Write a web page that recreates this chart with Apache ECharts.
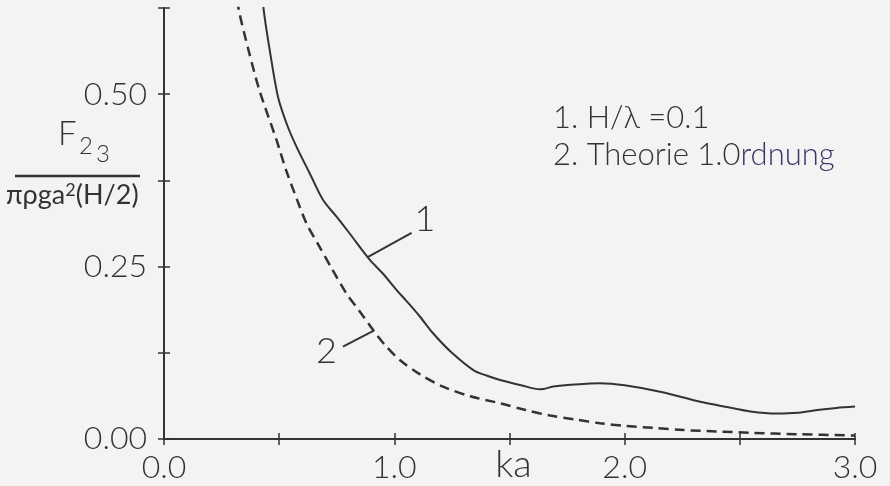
<!DOCTYPE html>
<html>
<head>
<meta charset="utf-8">
<script src="https://cdn.jsdelivr.net/npm/echarts@6/dist/echarts.min.js"></script>
<style>
  html, body { margin: 0; padding: 0; background: #f3f3f3; }
  #chart { width: 890px; height: 486px; }
</style>
</head>
<body>
<div id="chart"></div>
<script>
// Wave number ka and normalised second-order force, curve 1 (H/lambda = 0.1)
const ka1 = [0.425, 0.433, 0.459, 0.495, 0.535, 0.575, 0.633, 0.69, 0.75, 0.806, 0.893, 0.95, 1.01, 1.053, 1.11, 1.169, 1.25, 1.343, 1.40, 1.459, 1.55, 1.633, 1.69, 1.78, 1.893, 2.0, 2.154, 2.328, 2.45, 2.546, 2.66, 2.75, 2.836, 2.92, 3.0];
const f1  = [0.66, 0.622, 0.564, 0.496, 0.455, 0.424, 0.385, 0.347, 0.322, 0.298, 0.26, 0.24, 0.216, 0.2, 0.178, 0.153, 0.125, 0.100, 0.092, 0.0856, 0.078, 0.072, 0.076, 0.079, 0.081, 0.078, 0.0686, 0.054, 0.046, 0.040, 0.037, 0.038, 0.042, 0.045, 0.047];

// Curve 2: first-order theory
const ka2 = [0.31, 0.325, 0.37, 0.415, 0.488, 0.53, 0.58, 0.618, 0.673, 0.727, 0.792, 0.85, 0.908, 0.96, 1.024, 1.11, 1.212, 1.33, 1.459, 1.57, 1.676, 1.79, 1.893, 2.0, 2.13, 2.256, 2.4, 2.546, 2.75, 3.0];
const f2  = [0.66, 0.622, 0.56, 0.505, 0.434, 0.39, 0.345, 0.313, 0.28, 0.248, 0.211, 0.185, 0.158, 0.136, 0.1146, 0.094, 0.0758, 0.062, 0.0518, 0.042, 0.034, 0.028, 0.0228, 0.019, 0.016, 0.013, 0.011, 0.009, 0.007, 0.005];

// Axis tick labels
const xTickLabels = ['0.0', '1.0', '2.0', '3.0'];
const yTickLabels = ['0.00', '0.25', '0.50'];

// Curve annotations: leader line [from, to] and label position, in data units
const lead1 = [[0.886, 0.264], [1.075, 0.299]];
const tag1 = [1.133, 0.318];
const lead2 = [[0.777, 0.134], [0.911, 0.157]];
const tag2 = [0.705, 0.127];

const INK = '#333333';
const FONT = 'Lato';
const WEIGHT = 300;

function pairs(xs, ys) { return xs.map((x, i) => [x, ys[i]]); }

const chart = echarts.init(document.getElementById('chart'), null, { renderer: 'canvas' });

const xLabel = v => { const s = v.toFixed(1); return xTickLabels.includes(s) && Number.isInteger(v) ? s : ''; };
const yLabel = v => { const s = v.toFixed(2); return yTickLabels.includes(s) && Math.abs(v * 4 - Math.round(v * 4)) < 1e-9 ? s : ''; };

const tickStyle = { color: INK, width: 1.5 };
const lineStyle = { color: INK, width: 2 };

const option = {
  backgroundColor: '#f3f3f3',
  animation: false,
  grid: { left: 164, right: 35, top: 8, bottom: 47, containLabel: false, outerBoundsMode: 'none' },
  xAxis: [
    {
      type: 'value', min: 0, max: 3, interval: 0.5, position: 'bottom',
      axisLine: { show: true, onZero: false, lineStyle: lineStyle },
      axisTick: { show: true, length: 6, lineStyle: tickStyle },
      splitLine: { show: false },
      axisLabel: { margin: 13, color: INK, fontFamily: FONT, fontWeight: WEIGHT, fontSize: 32, formatter: xLabel },
      name: 'ka', nameLocation: 'middle', nameGap: 7, nameMoveOverlap: false,
      nameTextStyle: { color: INK, fontFamily: FONT, fontWeight: WEIGHT, fontSize: 38, padding: [0, 0, 0, 8] }
    },
    {
      // twin axis with the same scale and line: inner half of each tick
      type: 'value', min: 0, max: 3, interval: 0.5, position: 'bottom',
      axisLine: { show: true, onZero: false, lineStyle: lineStyle },
      axisTick: { show: true, inside: true, length: 6, lineStyle: tickStyle },
      splitLine: { show: false }, axisLabel: { show: false }
    }
  ],
  yAxis: [
    {
      type: 'value', min: 0, max: 0.625, interval: 0.125, position: 'left',
      axisLine: { show: true, onZero: false, lineStyle: lineStyle },
      axisTick: { show: true, length: 6, lineStyle: tickStyle },
      splitLine: { show: false },
      axisLabel: { margin: 17, color: INK, fontFamily: FONT, fontWeight: WEIGHT, fontSize: 32, formatter: yLabel }
    },
    {
      // twin axis with the same scale and line: inner half of each tick
      type: 'value', min: 0, max: 0.625, interval: 0.125, position: 'left',
      axisLine: { show: true, onZero: false, lineStyle: lineStyle },
      axisTick: { show: true, inside: true, length: 6, lineStyle: tickStyle },
      splitLine: { show: false }, axisLabel: { show: false }
    }
  ],
  series: [
    {
      name: '1', type: 'line', data: pairs(ka1, f1), smooth: 0.3, showSymbol: false, clip: true,
      lineStyle: { color: INK, width: 2 },
      markLine: {
        silent: true, symbol: 'none', label: { show: false },
        lineStyle: { color: INK, width: 2, type: 'solid' },
        data: [[{ coord: lead1[0] }, { coord: lead1[1] }]]
      },
      markPoint: {
        silent: true, symbol: 'circle', symbolSize: 0,
        label: { show: true, formatter: '1', color: INK, fontFamily: FONT, fontWeight: WEIGHT, fontSize: 36 },
        data: [{ coord: tag1 }]
      }
    },
    {
      // drawn through the twin axes, which share the main axes' scales
      name: '2', type: 'line', xAxisIndex: 1, yAxisIndex: 1,
      data: pairs(ka2, f2), smooth: 0.3, showSymbol: false, clip: true,
      lineStyle: { color: INK, width: 2.5, type: [10, 6] },
      markLine: {
        silent: true, symbol: 'none', label: { show: false },
        lineStyle: { color: INK, width: 2, type: 'solid' },
        data: [[{ coord: lead2[0] }, { coord: lead2[1] }]]
      },
      markPoint: {
        silent: true, symbol: 'circle', symbolSize: 0,
        label: { show: true, formatter: '2', color: INK, fontFamily: FONT, fontWeight: WEIGHT, fontSize: 36 },
        data: [{ coord: tag2 }]
      }
    }
  ],
  graphic: [
    // y-axis quantity: F_23 / (pi rho g a^2 (H/2))
    { type: 'text', left: 58, top: 118, style: { text: 'F', fill: INK, font: WEIGHT + ' 33px ' + FONT } },
    { type: 'text', left: 79, top: 134, style: { text: '2', fill: INK, font: WEIGHT + ' 24px ' + FONT } },
    { type: 'text', left: 96, top: 142, style: { text: '3', fill: INK, font: WEIGHT + ' 24px ' + FONT } },
    { type: 'line', shape: { x1: 15, y1: 176, x2: 140, y2: 176 }, style: { stroke: INK, lineWidth: 2.5 } },
    {
      type: 'text', left: 6, top: 181,
      style: {
        text: '{a|πρga}{s|2}{a|(H/2)}',
        rich: {
          a: { fill: INK, fontFamily: FONT, fontSize: 27, verticalAlign: 'bottom' },
          s: { fill: INK, fontFamily: FONT, fontSize: 18, verticalAlign: 'top', padding: [0, 0, 10, 0] }
        }
      }
    },
    // curve legend
    { type: 'text', left: 553, top: 102, style: { text: '1. H/λ =0.1', fill: INK, font: WEIGHT + ' 31px ' + FONT } },
    {
      type: 'text', left: 553, top: 139,
      style: {
        text: '{a|2. Theorie 1.0}{b|rdnung}',
        rich: {
          a: { fill: INK, fontFamily: FONT, fontWeight: WEIGHT, fontSize: 31 },
          b: { fill: '#3b3468', fontFamily: FONT, fontWeight: WEIGHT, fontSize: 31 }
        }
      }
    }
  ]
};

chart.setOption(option);
</script>
</body>
</html>
